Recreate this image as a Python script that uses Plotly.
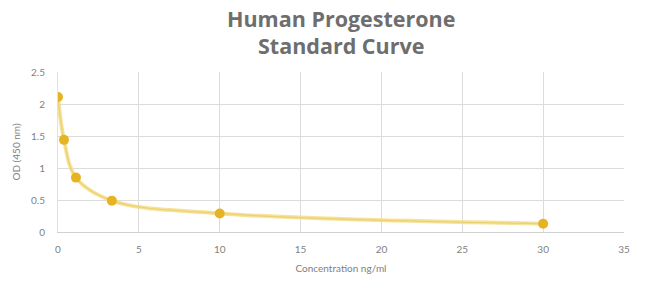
import plotly.graph_objects as go

concentration = [0, 0.37, 1.11, 3.33, 10, 30]
od_450 = [2.11, 1.44, 0.85, 0.49, 0.29, 0.13]
x_ticks = [0, 5, 10, 15, 20, 25, 30, 35]
y_ticks = [0, 0.5, 1, 1.5, 2, 2.5]
y_tick_text = ["0", "0.5", "1", "1.5", "2", "2.5"]
title_lines = ["Human Progesterone", "Standard Curve"]

fig = go.Figure()
fig.add_trace(go.Scatter(
    x=concentration, y=od_450, mode="lines",
    line=dict(shape="spline", smoothing=1.0, color="rgba(243,222,140,0.85)", width=4),
    hoverinfo="skip", showlegend=False,
))
fig.add_trace(go.Scatter(
    x=concentration, y=od_450, mode="lines",
    line=dict(shape="spline", smoothing=1.0, color="rgba(232,195,80,0.6)", width=1.2),
    hoverinfo="skip", showlegend=False,
))
fig.add_trace(go.Scatter(
    x=concentration, y=od_450, mode="markers",
    marker=dict(size=10, color="#E6B422", line=dict(width=0)),
    showlegend=False,
))

font = "Lato, 'Open Sans', sans-serif"
title_font = "'Open Sans', sans-serif"
fig.add_annotation(
    text="<b>" + title_lines[0] + "</b>", xref="paper", yref="paper",
    x=0.5, y=1.0 + (72 - 18) / 160.0, xanchor="center", yanchor="middle",
    showarrow=False, font=dict(family=title_font, size=21.5, color="#6e6e6e"),
)
fig.add_annotation(
    text="<b>" + title_lines[1] + "</b>", xref="paper", yref="paper",
    x=0.5, y=1.0 + (72 - 46) / 160.0, xanchor="center", yanchor="middle",
    showarrow=False, font=dict(family=title_font, size=21.5, color="#6e6e6e"),
)
fig.update_layout(
    width=650, height=294,
    margin=dict(l=58, r=26, t=72, b=62),
    paper_bgcolor="white", plot_bgcolor="white",
    font=dict(family=font, color="#7f7f7f", size=10),
    xaxis=dict(
        range=[0, 35], tickvals=x_ticks, showgrid=True, gridcolor="#dcdcdc", gridwidth=1,
        zeroline=False, showline=True, linecolor="#d0d0d0", mirror=False,
        ticks="", ticklabelstandoff=8, tickfont=dict(size=10, color="#7f7f7f"),
        title=dict(text="Concentration ng/ml", font=dict(size=10, color="#7f7f7f"), standoff=10),
    ),
    yaxis=dict(
        range=[0, 2.5], tickvals=y_ticks, ticktext=y_tick_text, showgrid=True,
        gridcolor="#dcdcdc", gridwidth=1, zeroline=False, showline=True, linecolor="#e0e0e0",
        ticks="", ticklabelstandoff=10, tickfont=dict(size=10, color="#7f7f7f"),
        title=dict(text="OD (450 nm)", font=dict(size=10, color="#7f7f7f"), standoff=8),
    ),
)
fig.write_html("out.html")
